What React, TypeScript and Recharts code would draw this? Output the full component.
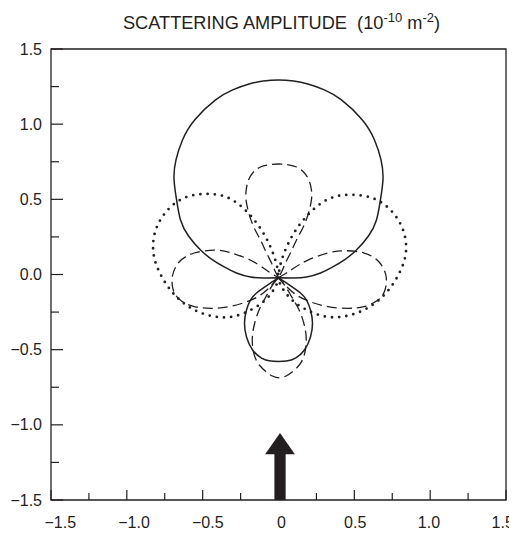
import React from 'react';
import { ComposedChart, Line, XAxis, YAxis, ReferenceArea } from 'recharts';

const INK = '#231f20';
const FONT = '"Liberation Sans", Arial, Helvetica, sans-serif';

// ---- axes ----
const X_TICKS = [-1.5, -1.25, -1, -0.75, -0.5, -0.25, 0, 0.25, 0.5, 0.75, 1, 1.25, 1.5];
const Y_TICKS = [-1.5, -1.25, -1, -0.75, -0.5, -0.25, 0, 0.25, 0.5, 0.75, 1, 1.25, 1.5];
const X_LABELS: Record<string, string> = {
  '-1.5': '\u22121.5', '-1': '\u22121.0', '-0.5': '\u22120.5', '0': '0',
  '0.5': '0.5', '1': '1.0', '1.5': '1.5',
};
const Y_LABELS: Record<string, string> = {
  '-1.5': '\u22121.5', '-1': '\u22121.0', '-0.5': '\u22120.5', '0': '0.0',
  '0.5': '0.5', '1': '1.0', '1.5': '1.5',
};

// ---- solid curve (two lobes) ----
const SOLID_UPPER_LOBE: number[][] = [
  [0, -0.022], [-0.099, -0.023], [-0.185, -0.017], [-0.277, 0.010], [-0.361, 0.052],
  [-0.442, 0.103], [-0.514, 0.163], [-0.593, 0.256], [-0.646, 0.363], [-0.672, 0.496],
  [-0.689, 0.635], [-0.676, 0.762], [-0.633, 0.895], [-0.553, 1.028], [-0.415, 1.161],
  [-0.302, 1.228], [-0.194, 1.267], [-0.100, 1.287], [0, 1.294], [0.100, 1.287],
  [0.194, 1.267], [0.302, 1.228], [0.415, 1.161], [0.553, 1.028], [0.633, 0.895],
  [0.676, 0.762], [0.689, 0.635], [0.672, 0.496], [0.646, 0.363], [0.593, 0.256],
  [0.514, 0.163], [0.442, 0.103], [0.361, 0.052], [0.277, 0.010], [0.185, -0.017],
  [0.099, -0.023], [0, -0.022],
];
const SOLID_LOWER_LOBE: number[][] = [
  [0, -0.022], [0.073, -0.070], [0.145, -0.123], [0.185, -0.170], [0.211, -0.236],
  [0.224, -0.323], [0.211, -0.416], [0.171, -0.502], [0.112, -0.556], [0.053, -0.576],
  [0, -0.579], [-0.053, -0.576], [-0.112, -0.556], [-0.171, -0.502], [-0.211, -0.416],
  [-0.224, -0.323], [-0.211, -0.236], [-0.185, -0.170], [-0.145, -0.123], [-0.073, -0.070],
  [0, -0.022],
];

// ---- dotted curve (two lobes) ----
const DOTTED_RIGHT_LOBE: number[][] = [
  [0, -0.022], [0.021, 0.096], [0.116, 0.298], [0.290, 0.480], [0.463, 0.530],
  [0.628, 0.505], [0.753, 0.413], [0.827, 0.279], [0.837, 0.126], [0.780, -0.022],
  [0.689, -0.144], [0.573, -0.231], [0.442, -0.277], [0.306, -0.279], [0.174, -0.229],
  [0.080, -0.161], [0.024, -0.088], [0.003, -0.042], [0, -0.022],
];
const DOTTED_LEFT_LOBE: number[][] = [
  [0, -0.022], [-0.003, -0.042], [-0.024, -0.088], [-0.078, -0.161], [-0.170, -0.229],
  [-0.300, -0.280], [-0.433, -0.278], [-0.562, -0.232], [-0.676, -0.145], [-0.766, -0.022],
  [-0.822, 0.126], [-0.814, 0.281], [-0.742, 0.416], [-0.620, 0.510], [-0.458, 0.536],
  [-0.287, 0.485], [-0.115, 0.300], [-0.021, 0.096], [0, -0.022],
];

// ---- dashed curve (four lobes) ----
const DASHED_TOP_LOBE: number[][] = [
  [0, -0.022], [-0.026, 0.030], [-0.046, 0.077], [-0.082, 0.150], [-0.119, 0.230],
  [-0.163, 0.316], [-0.196, 0.409], [-0.214, 0.496], [-0.213, 0.562], [-0.198, 0.629],
  [-0.165, 0.682], [-0.119, 0.715], [-0.066, 0.729], [0, 0.735], [0.066, 0.729],
  [0.119, 0.715], [0.165, 0.682], [0.200, 0.629], [0.217, 0.562], [0.217, 0.496],
  [0.198, 0.409], [0.163, 0.316], [0.119, 0.230], [0.082, 0.150], [0.046, 0.077],
  [0.026, 0.030], [0, -0.022],
];
const DASHED_RIGHT_LOBE: number[][] = [
  [0, -0.022], [0.063, 0.017], [0.102, 0.043], [0.194, 0.096], [0.326, 0.143],
  [0.432, 0.158], [0.564, 0.143], [0.663, 0.083], [0.709, -0.010], [0.702, -0.103],
  [0.656, -0.170], [0.564, -0.213], [0.458, -0.225], [0.326, -0.214], [0.214, -0.183],
  [0.129, -0.143], [0.063, -0.090], [0, -0.022],
];
const DASHED_BOTTOM_LOBE: number[][] = [
  [0, -0.022], [0.040, -0.070], [0.088, -0.150], [0.136, -0.236], [0.170, -0.336],
  [0.183, -0.436], [0.170, -0.535], [0.137, -0.602], [0.090, -0.649], [0.050, -0.675],
  [0.005, -0.687], [-0.040, -0.675], [-0.080, -0.649], [-0.126, -0.602], [-0.160, -0.535],
  [-0.173, -0.436], [-0.160, -0.336], [-0.128, -0.236], [-0.084, -0.150], [-0.040, -0.070],
  [0, -0.022],
];
const DASHED_LEFT_LOBE: number[][] = [
  [0, -0.022], [-0.063, -0.090], [-0.129, -0.143], [-0.214, -0.183], [-0.326, -0.214],
  [-0.440, -0.225], [-0.555, -0.213], [-0.648, -0.170], [-0.694, -0.103], [-0.699, -0.010],
  [-0.655, 0.083], [-0.556, 0.143], [-0.420, 0.162], [-0.318, 0.146], [-0.190, 0.098],
  [-0.100, 0.043], [-0.062, 0.017], [0, -0.022],
];

// ---- incident-beam arrow (data units) ----
const ARROW_X = 0.01;
const ARROW_TIP_Y = -1.055;
const ARROW_HEAD_BASE_Y = -1.196;
const ARROW_HEAD_HALF = 0.098;
const ARROW_SHAFT_HALF = 0.037;

const toPoints = (arr: number[][]) => arr.map(([x, y]) => ({ x, y }));

// the printed x labels sit on a slightly narrower spacing than the ticks
const XTick = (props: any) => {
  const { x, y, payload } = props;
  const label = X_LABELS[String(payload.value)];
  const major = label !== undefined;
  const shift = 3 - 4.2 * Number(payload.value);
  return (
    <g>
      <line x1={x} x2={x} y1={y} y2={y - (major ? 10 : 7)} stroke={INK} strokeWidth={1.2} />
      {major && (
        <text x={x + shift} y={y + 28} textAnchor="middle" fontSize={16} fontFamily={FONT} fill={INK}>
          {label}
        </text>
      )}
    </g>
  );
};

const YTick = (props: any) => {
  const { x, y, payload } = props;
  const label = Y_LABELS[String(payload.value)];
  const major = label !== undefined;
  return (
    <g>
      <line x1={x} x2={x + (major ? 12 : 8)} y1={y} y2={y} stroke={INK} strokeWidth={1.2} />
      {major && (
        <text x={x - 9} y={y + 5.5} textAnchor="end" fontSize={16} fontFamily={FONT} fill={INK}>
          {label}
        </text>
      )}
    </g>
  );
};

const ArrowHead = (p: any) => {
  const { x, y, width, height } = p;
  return (
    <polygon
      points={`${x},${y + height} ${x + width / 2},${y} ${x + width},${y + height}`}
      fill={INK}
    />
  );
};

const lobes = [
  { key: 'sU', data: SOLID_UPPER_LOBE, dash: undefined, w: 1.5, cap: 'butt' },
  { key: 'sL', data: SOLID_LOWER_LOBE, dash: undefined, w: 1.5, cap: 'butt' },
  { key: 'oR', data: DOTTED_RIGHT_LOBE, dash: '0 7.2', w: 2.8, cap: 'round' },
  { key: 'oL', data: DOTTED_LEFT_LOBE, dash: '0 7.2', w: 2.8, cap: 'round' },
  { key: 'dT', data: DASHED_TOP_LOBE, dash: '10 5', w: 1.3, cap: 'butt' },
  { key: 'dR', data: DASHED_RIGHT_LOBE, dash: '10 5', w: 1.3, cap: 'butt' },
  { key: 'dB', data: DASHED_BOTTOM_LOBE, dash: '10 5', w: 1.3, cap: 'butt' },
  { key: 'dL', data: DASHED_LEFT_LOBE, dash: '10 5', w: 1.3, cap: 'butt' },
];

export default function App() {
  return (
    <div style={{ position: 'relative', width: 509, height: 525, fontFamily: FONT, color: INK }}>
      <style>{`html { overflow: hidden; } .recharts-wrapper svg { display: block; overflow: visible; }`}</style>
      <div
        style={{
          position: 'absolute',
          top: 7,
          left: 273.5,
          transform: 'translateX(-50%)',
          whiteSpace: 'nowrap',
          fontSize: 18.2,
          lineHeight: '17px',
        }}
      >
        SCATTERING AMPLITUDE&nbsp;&nbsp;(10
        <span style={{ fontSize: 13, position: 'relative', top: -7 }}>-10</span>
        &nbsp;m
        <span style={{ fontSize: 13, position: 'relative', top: -7 }}>-2</span>)
      </div>
      <ComposedChart width={509} height={525} margin={{ top: 41, right: 11, bottom: 0, left: 0 }}>
        <XAxis
          type="number"
          dataKey="x"
          domain={[-1.5, 1.5]}
          ticks={X_TICKS}
          interval={0}
          allowDataOverflow
          axisLine={false}
          tickLine={false}
          tickSize={0}
          tickMargin={0}
          height={33}
          tick={<XTick />}
        />
        <YAxis
          type="number"
          dataKey="y"
          domain={[-1.5, 1.5]}
          ticks={Y_TICKS}
          interval={0}
          allowDataOverflow
          axisLine={false}
          tickLine={false}
          tickSize={0}
          tickMargin={0}
          width={43}
          tick={<YTick />}
        />
        <ReferenceArea
          x1={-1.5}
          x2={1.5}
          y1={-1.5}
          y2={1.5}
          fill="none"
          fillOpacity={0}
          stroke={INK}
          strokeWidth={1.3}
          ifOverflow="visible"
        />
        <ReferenceArea
          x1={ARROW_X - ARROW_SHAFT_HALF}
          x2={ARROW_X + ARROW_SHAFT_HALF}
          y1={-1.5}
          y2={ARROW_HEAD_BASE_Y + 0.01}
          fill={INK}
          fillOpacity={1}
          stroke="none"
          ifOverflow="visible"
        />
        <ReferenceArea
          x1={ARROW_X - ARROW_HEAD_HALF}
          x2={ARROW_X + ARROW_HEAD_HALF}
          y1={ARROW_HEAD_BASE_Y}
          y2={ARROW_TIP_Y}
          ifOverflow="visible"
          shape={ArrowHead}
        />
        {lobes.map((l) => (
          <Line
            key={l.key}
            data={toPoints(l.data)}
            dataKey="y"
            type="natural"
            dot={false}
            activeDot={false}
            stroke={INK}
            strokeWidth={l.w}
            strokeDasharray={l.dash}
            strokeLinecap={l.cap as any}
            isAnimationActive={false}
            legendType="none"
          />
        ))}
      </ComposedChart>
    </div>
  );
}
